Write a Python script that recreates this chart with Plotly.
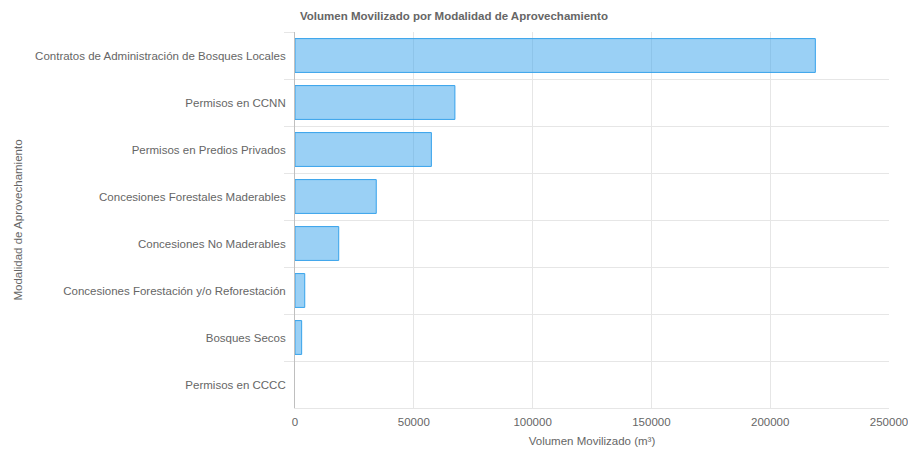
import plotly.graph_objects as go

categories = [
    "Contratos de Administración de Bosques Locales",
    "Permisos en CCNN",
    "Permisos en Predios Privados",
    "Concesiones Forestales Maderables",
    "Concesiones No Maderables",
    "Concesiones Forestación y/o Reforestación",
    "Bosques Secos",
    "Permisos en CCCC",
]
volumes = [219000, 67300, 57400, 34200, 18400, 4100, 2800, 0]

x_ticks = [0, 50000, 100000, 150000, 200000, 250000]

font_family = "Liberation Sans, Arial, sans-serif"
grey = "#666666"
grid = "#e6e6e6"
fsize = 11.5

fig = go.Figure(
    go.Bar(
        y=categories,
        x=volumes,
        orientation="h",
        width=0.72,
        marker=dict(
            color="rgba(54,162,235,0.5)",
            line=dict(color="rgb(54,162,235)", width=[1 if v > 0 else 0 for v in volumes]),
        ),
        hovertemplate="%{y}: %{x}<extra></extra>",
    )
)

fig.update_layout(
    width=908,
    height=449,
    margin=dict(l=295, r=19, t=32, b=41),
    paper_bgcolor="white",
    plot_bgcolor="white",
    showlegend=False,
    font=dict(family=font_family, size=fsize, color=grey),
    title=dict(
        text="<b>Volumen Movilizado por Modalidad de Aprovechamiento</b>",
        x=0.5,
        xanchor="center",
        xref="container",
        y=1 - 16 / 449,
        yanchor="middle",
        font=dict(size=fsize, color=grey, family=font_family),
    ),
)

fig.update_xaxes(
    range=[0, 250000],
    tickvals=x_ticks,
    ticktext=[str(v) for v in x_ticks],
    ticklabeloverflow="allow",
    ticklabelstandoff=3,
    showgrid=True,
    gridcolor=grid,
    gridwidth=1,
    zeroline=False,
    showline=True,
    linecolor=grid,
    ticks="",
    tickfont=dict(size=fsize, color=grey),
    title=dict(text="Volumen Movilizado (m³)", font=dict(size=fsize, color=grey), standoff=10),
    automargin=False,
    fixedrange=True,
)

fig.update_yaxes(
    type="category",
    categoryorder="array",
    categoryarray=categories,
    autorange="reversed",
    tickson="boundaries",
    showgrid=True,
    gridcolor=grid,
    gridwidth=1,
    zeroline=False,
    ticks="outside",
    ticklen=10,
    tickcolor=grid,
    ticklabelstandoff=6,
    showline=True,
    linecolor="#bfbfbf",
    tickfont=dict(size=fsize, color=grey),
    title=dict(text="Modalidad de Aprovechamiento", font=dict(size=fsize, color=grey), standoff=10),
    automargin=False,
    fixedrange=True,
)

fig.write_html(
    "out.html",
    config={"displayModeBar": False},
    post_script="document.body.style.margin='0';document.body.style.overflow='hidden';",
)
